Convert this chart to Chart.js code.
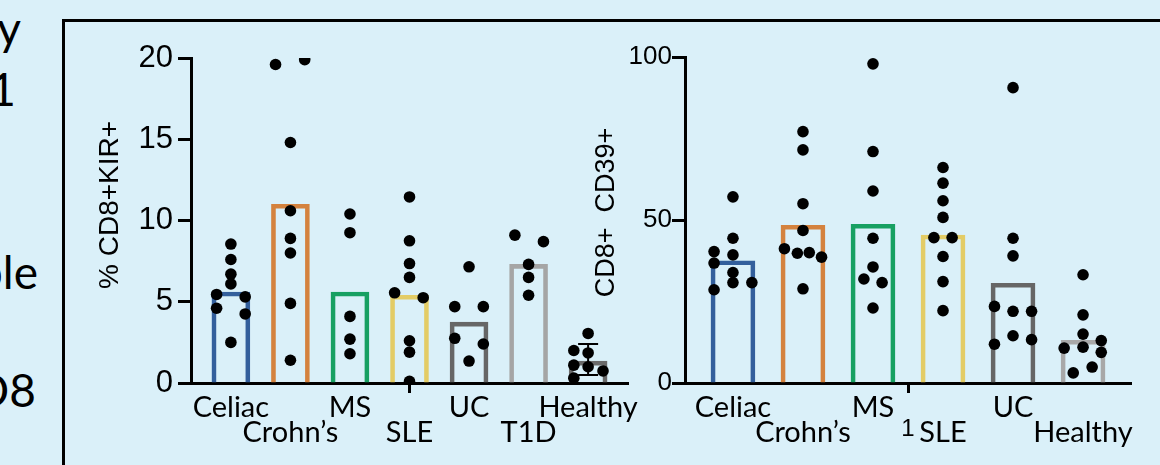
<!DOCTYPE html>
<html>
<head>
<meta charset="utf-8">
<script src="https://cdn.jsdelivr.net/npm/chart.js@4.4.1/dist/chart.umd.min.js"></script>
<style>
  body { margin: 0; width: 1160px; height: 465px; background: #DAF0F9; overflow: hidden; position: relative; font-family: Lato, sans-serif; }
  .box { position: absolute; left: 62px; top: 19px; width: 1200px; height: 600px; border-left: 3px solid #000; border-top: 3px solid #000; }
  .frag { position: absolute; left: -300px; text-align: right; font-size: 46px; line-height: 46px; color: #000; white-space: nowrap; }
  #left { position: absolute; left: 62px; top: 0; }
  #right { position: absolute; left: 560px; top: 0; }
</style>
</head>
<body>
<div class="frag" style="width:321px; top:5px;">by</div>
<div class="frag" style="width:316px; top:66px;">2021</div>
<div class="frag" style="width:338px; top:249px;">people</div>
<div class="frag" style="width:336px; top:367px;">CD8</div>
<div class="box"></div>
<canvas id="left" width="580" height="465"></canvas>
<canvas id="right" width="600" height="465"></canvas>
<script>
// left panel: % CD8+KIR+
const leftCats = ['Celiac', 'Crohn’s', 'MS', 'SLE', 'UC', 'T1D', 'Healthy'];
const leftColors = ['#335F9C', '#D4823E', '#17A062', '#E3CC66', '#666666', '#A5A5A5', '#6A6A6A'];
const leftMeans = [5.6, 11.0, 5.6, 5.4, 3.75, 7.3, 1.35];
const leftErrLow = [null, null, null, null, null, null, 0.5];
const leftErrHigh = [null, null, null, null, null, null, 2.4];
const leftDots = [
  [8.55, 7.6, 6.7, 6.1, 5.45, 5.3, 4.6, 4.25, 2.5],
  [19.6, 19.9, 14.8, 10.6, 8.9, 8.0, 4.9, 1.4],
  [10.4, 9.25, 4.1, 2.7, 1.8],
  [11.45, 8.75, 7.35, 6.5, 5.55, 5.25, 2.6, 1.9, 0.1],
  [7.15, 4.7, 4.7, 2.75, 2.4, 1.35],
  [9.1, 8.7, 7.3, 6.5, 5.4],
  [3.05, 2.0, 1.85, 1.1, 1.0, 0.74, 0.3]
];
const leftJitter = [
  [0, 0, 0, 0, -0.24, 0.24, -0.24, 0.24, 0],
  [-0.25, 0.24, 0, 0, 0, 0, 0, 0],
  [0, 0, 0, 0, 0],
  [0, 0, 0, 0, -0.25, 0.23, 0, 0, 0],
  [0, -0.24, 0.24, -0.24, 0.24, 0],
  [-0.23, 0.25, 0, 0, 0],
  [0, -0.24, 0, -0.24, 0, 0.25, -0.24]
];

// right panel: CD8+ CD39+
const rightCats = ['Celiac', 'Crohn’s', 'MS', 'SLE', 'UC', 'Healthy'];
const rightColors = ['#335F9C', '#D4823E', '#17A062', '#E3CC66', '#666666', '#A8A8A8'];
const rightMeans = [37.5, 48.4, 48.7, 45.4, 30.6, 13.1];
const rightDots = [
  [57.1, 44.4, 40.3, 39.3, 36.8, 33.9, 30.8, 30.8, 28.6],
  [77.1, 71.5, 55.0, 46.8, 41.2, 39.8, 40.0, 38.6, 28.9],
  [97.9, 71.0, 58.9, 44.4, 35.6, 31.9, 30.8, 23.0],
  [66.1, 61.3, 55.9, 50.8, 44.6, 44.6, 38.8, 31.1, 22.2],
  [90.6, 44.4, 39.0, 23.5, 22.0, 22.0, 14.5, 11.9, 13.3],
  [33.2, 20.9, 15.0, 13.0, 11.0, 10.7, 9.4, 4.9, 3.1]
];
const rightJitter = [
  [0, 0, -0.27, 0, -0.27, 0, 0, 0.27, -0.27],
  [0, 0, 0, 0, -0.265, -0.08, 0.09, 0.265, 0],
  [0, 0, 0, 0, 0, -0.13, 0.13, 0],
  [0, 0, 0, 0, -0.13, 0.13, 0, 0, 0],
  [0, 0, 0, -0.265, 0, 0.265, 0, -0.265, 0.265],
  [0, 0, 0, 0.26, 0, -0.27, 0.26, 0.13, -0.14]
];

const errorBars = {
    id: 'errorBars',
    afterDatasetsDraw(chart, args, opts) {
        if (!opts.low) return;
        const ctx = chart.ctx, x = chart.scales.x, y = chart.scales.y;
        ctx.save();
        ctx.strokeStyle = '#000';
        ctx.lineWidth = 2;
        opts.low.forEach((lo, i) => {
            if (lo == null) return;
            const px = x.getPixelForValue(i);
            const y1 = y.getPixelForValue(lo), y2 = y.getPixelForValue(opts.high[i]);
            ctx.beginPath();
            ctx.moveTo(px, y1); ctx.lineTo(px, y2);
            ctx.moveTo(px - 10, y1); ctx.lineTo(px + 10, y1);
            ctx.moveTo(px - 10, y2); ctx.lineTo(px + 10, y2);
            ctx.stroke();
        });
        ctx.restore();
    }
};

const labelFont = { family: 'Lato', size: 29, lineHeight: 0.87 };

function buildPanel(id, o) {
    const bars = o.means.map((v, i) => ({ x: i, y: v }));
    const dots = [];
    o.dots.forEach((vals, i) => vals.forEach((v, j) => dots.push({ x: i + o.jitter[i][j], y: v })));
    const extraVals = o.extra.map(t => t.value);
    const tickVals = o.cats.map((c, i) => i).concat(extraVals).sort((a, b) => a - b);

    return new Chart(document.getElementById(id), {
        type: 'bar',
        data: {
            datasets: [
                { type: 'scatter', data: dots, pointRadius: 5.8, pointBackgroundColor: '#000', pointBorderWidth: 0, order: 0 },
                { data: bars, backgroundColor: 'rgba(0,0,0,0)', borderColor: o.colors, borderWidth: 4, barThickness: o.barWidth, order: 1 }
            ]
        },
        options: {
            responsive: false,
            animation: false,
            layout: { padding: o.padding },
            plugins: {
                legend: { display: false },
                tooltip: { enabled: false },
                errorBars: { low: o.errLow, high: o.errHigh }
            },
            scales: {
                x: {
                    type: 'linear',
                    offset: false,
                    min: -o.edge,
                    max: o.cats.length - 1 + o.edge,
                    afterBuildTicks: s => { s.ticks = tickVals.map(v => ({ value: v })); },
                    afterFit: s => { s.height = o.xHeight; },
                    border: { display: true, color: '#000', width: 3 },
                    grid: {
                        offset: false,
                        drawOnChartArea: false,
                        tickLength: 10,
                        tickWidth: 3,
                        tickColor: ctx => (o.marks.includes(ctx.tick && ctx.tick.value) ? '#000' : 'rgba(0,0,0,0)')
                    },
                    ticks: {
                        autoSkip: false,
                        maxRotation: 0,
                        padding: 2,
                        color: '#000',
                        font: ctx => (extraVals.includes(ctx.tick && ctx.tick.value) ? { family: 'Liberation Sans', size: 24, lineHeight: 0.95 } : labelFont),
                        callback: (v) => {
                            const ex = o.extra.find(t => t.value === v);
                            if (ex) return ['', ex.label];
                            const name = o.cats[v];
                            return v % 2 === 0 ? [name, ''] : ['', name];
                        }
                    }
                },
                y: {
                    min: 0,
                    max: o.yMax,
                    afterFit: s => { s.width = o.yWidth; },
                    border: { display: true, color: '#000', width: 3 },
                    grid: { drawOnChartArea: false, tickLength: 13, tickWidth: 3, tickColor: '#000' },
                    ticks: { stepSize: o.yStep, padding: o.tickPad, color: '#000', font: { family: 'Liberation Sans', size: o.tickSize } },
                    title: {
                        display: true,
                        text: o.yTitle,
                        color: '#000',
                        font: { family: 'Liberation Sans', size: o.titleSize },
                        padding: { top: o.titlePad, bottom: 0 }
                    }
                }
            }
        },
        plugins: [errorBars]
    });
}

// leading spaces nudge the rotated titles up a little, like in the slide
buildPanel('left', {
    cats: leftCats, colors: leftColors, means: leftMeans, dots: leftDots, jitter: leftJitter,
    errLow: leftErrLow, errHigh: leftErrHigh,
    extra: [], marks: [3],
    yMax: 20, yStep: 5, yTitle: '    % CD8+KIR+', titleSize: 28, titlePad: 31, tickSize: 31,
    yWidth: 129, tickPad: 5, xHeight: 82, edge: 0.67, barWidth: 38,
    padding: { top: 58, right: 14, bottom: 0, left: 0 }
});

buildPanel('right', {
    cats: rightCats, colors: rightColors, means: rightMeans, dots: rightDots, jitter: rightJitter,
    errLow: null, errHigh: null,
    extra: [{ value: 2.5, label: '1' }], marks: [2.5],
    yMax: 100, yStep: 50, yTitle: '  CD8+  CD39+', titleSize: 27, titlePad: 30, tickSize: 26,
    yWidth: 125, tickPad: 0, xHeight: 82, edge: 0.685, barWidth: 44,
    padding: { top: 57, right: 29, bottom: 0, left: 0 }
});
</script>
</body>
</html>
